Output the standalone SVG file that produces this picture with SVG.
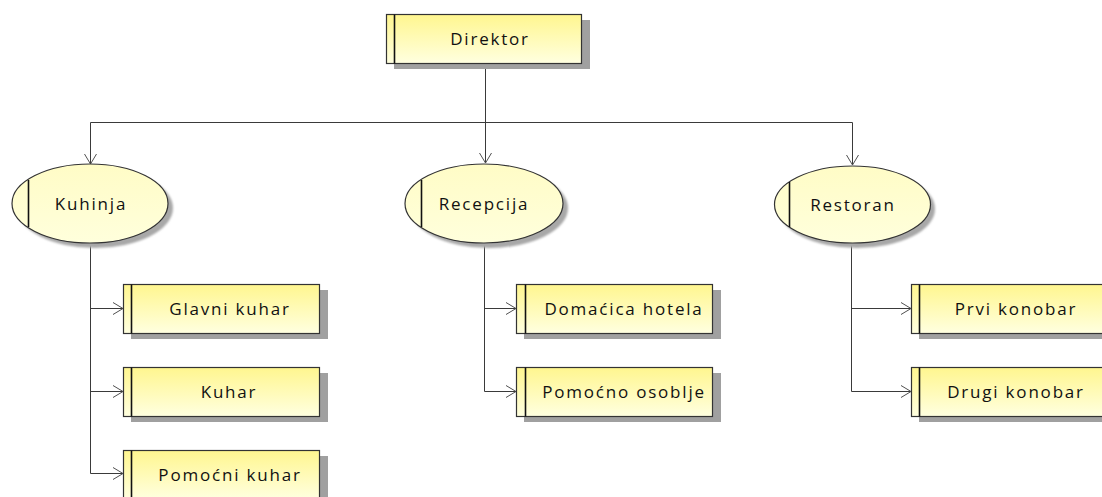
<svg xmlns="http://www.w3.org/2000/svg" width="1102" height="497" viewBox="0 0 1102 497">
<defs>
<linearGradient id="rg" x1="0" y1="0" x2="0" y2="1">
<stop offset="0" stop-color="#FFF68F"/>
<stop offset="1" stop-color="#FFFFE0"/>
</linearGradient>
<linearGradient id="eg" x1="0" y1="0" x2="0" y2="1">
<stop offset="0" stop-color="#FFFCC6"/>
<stop offset="1" stop-color="#FFFFDC"/>
</linearGradient>
<filter id="blur" x="-10%" y="-10%" width="120%" height="120%"><feGaussianBlur stdDeviation="1"/></filter>
<marker id="arr" markerWidth="12" markerHeight="14" refX="11" refY="7" orient="auto" markerUnits="userSpaceOnUse">
<path d="M1,1 L11,7 L1,13" fill="none" stroke="#505050" stroke-width="1"/>
</marker>
<style>
.box{fill:url(#rg);stroke:#333;stroke-width:1.2}
.ell{fill:url(#eg);stroke:#333;stroke-width:1.2}
.sh{fill:#a0a0a0}
.esh{fill:#a8a8a8;filter:url(#blur)}
.bar{stroke:#111;stroke-width:1.6}
.t{font-family:"Open Sans","DejaVu Sans",sans-serif;font-size:17px;letter-spacing:1.8px;fill:#111;text-anchor:middle}
.c{fill:none;stroke:#3a3a3a;stroke-width:1}
</style>
</defs>
<g id="connectors">
<path class="c" d="M485.5,63 V122.5"/>
<path class="c" d="M90.5,122.5 H852.5"/>
<path class="c" d="M90.5,122.5 V164" marker-end="url(#arr)"/>
<path class="c" d="M485.5,122.5 V163" marker-end="url(#arr)"/>
<path class="c" d="M852.5,122.5 V165" marker-end="url(#arr)"/>
<path class="c" d="M90.5,243 V473.5"/>
<path class="c" d="M90.5,308.5 H123" marker-end="url(#arr)"/>
<path class="c" d="M90.5,391.5 H123" marker-end="url(#arr)"/>
<path class="c" d="M90.5,473.5 H123" marker-end="url(#arr)"/>
<path class="c" d="M484.5,243 V391.5"/>
<path class="c" d="M484.5,308.5 H516" marker-end="url(#arr)"/>
<path class="c" d="M484.5,391.5 H516" marker-end="url(#arr)"/>
<path class="c" d="M851.5,243 V391.5"/>
<path class="c" d="M851.5,308.5 H911" marker-end="url(#arr)"/>
<path class="c" d="M851.5,391.5 H911" marker-end="url(#arr)"/>
</g>
<g id="direktor">
<rect class="sh" x="394" y="20" width="196" height="49"/>
<rect class="box" x="386.5" y="14.5" width="195" height="49"/>
<line class="bar" x1="394.5" y1="14.5" x2="394.5" y2="63.5"/>
<text class="t" x="490" y="45">Direktor</text>
</g>
<g id="kuhinja">
<ellipse class="esh" cx="95" cy="208" rx="78" ry="40"/>
<ellipse class="ell" cx="90" cy="203.5" rx="78" ry="39.5"/>
<line class="bar" x1="28.5" y1="180" x2="28.5" y2="227"/>
<text class="t" x="91" y="210">Kuhinja</text>
</g>
<g id="recepcija">
<ellipse class="esh" cx="489" cy="208" rx="79" ry="40"/>
<ellipse class="ell" cx="484" cy="203.5" rx="79" ry="39.5"/>
<line class="bar" x1="421.5" y1="180" x2="421.5" y2="227"/>
<text class="t" x="484" y="210">Recepcija</text>
</g>
<g id="restoran">
<ellipse class="esh" cx="857" cy="209" rx="78" ry="39"/>
<ellipse class="ell" cx="852.5" cy="204.5" rx="78" ry="38.5"/>
<line class="bar" x1="789.5" y1="182" x2="789.5" y2="227"/>
<text class="t" x="853" y="211">Restoran</text>
</g>
<g id="glavni-kuhar">
<rect class="sh" x="131" y="290" width="197" height="49"/>
<rect class="box" x="123.5" y="284.5" width="196" height="49"/>
<line class="bar" x1="131.5" y1="284.5" x2="131.5" y2="333.5"/>
<text class="t" x="230" y="315">Glavni kuhar</text>
</g>
<g id="kuhar">
<rect class="sh" x="131" y="373" width="197" height="49"/>
<rect class="box" x="123.5" y="367.5" width="196" height="49"/>
<line class="bar" x1="131.5" y1="367.5" x2="131.5" y2="416.5"/>
<text class="t" x="229" y="398">Kuhar</text>
</g>
<g id="pomocni-kuhar">
<rect class="sh" x="131" y="456" width="197" height="49"/>
<rect class="box" x="123.5" y="450.5" width="196" height="49"/>
<line class="bar" x1="131.5" y1="450.5" x2="131.5" y2="499.5"/>
<text class="t" x="230" y="481">Pomoćni kuhar</text>
</g>
<g id="domacica-hotela">
<rect class="sh" x="524" y="290" width="197" height="49"/>
<rect class="box" x="516.5" y="284.5" width="196" height="49"/>
<line class="bar" x1="525.5" y1="284.5" x2="525.5" y2="333.5"/>
<text class="t" x="624" y="315">Domaćica hotela</text>
</g>
<g id="pomocno-osoblje">
<rect class="sh" x="524" y="373" width="197" height="49"/>
<rect class="box" x="516.5" y="367.5" width="196" height="49"/>
<line class="bar" x1="525.5" y1="367.5" x2="525.5" y2="416.5"/>
<text class="t" x="624" y="398">Pomoćno osoblje</text>
</g>
<g id="prvi-konobar">
<rect class="sh" x="919" y="290" width="197" height="49"/>
<rect class="box" x="911.5" y="284.5" width="196" height="49"/>
<line class="bar" x1="919.5" y1="284.5" x2="919.5" y2="333.5"/>
<text class="t" x="1016" y="315">Prvi konobar</text>
</g>
<g id="drugi-konobar">
<rect class="sh" x="919" y="373" width="197" height="49"/>
<rect class="box" x="911.5" y="367.5" width="196" height="49"/>
<line class="bar" x1="919.5" y1="367.5" x2="919.5" y2="416.5"/>
<text class="t" x="1016" y="398">Drugi konobar</text>
</g>
</svg>
